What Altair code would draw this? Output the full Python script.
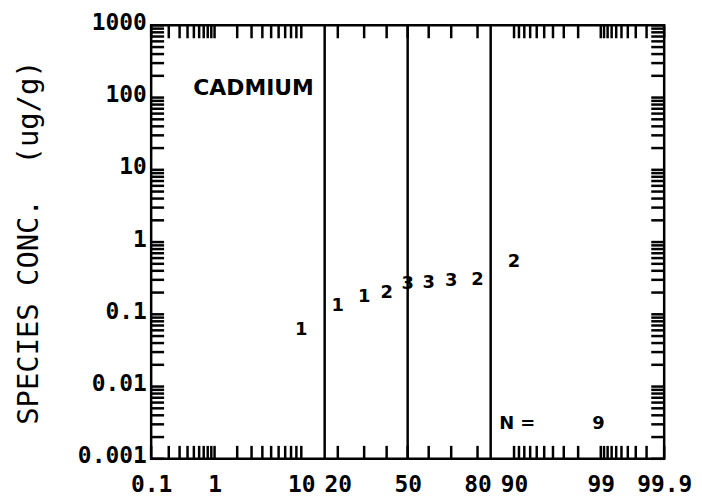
import altair as alt
import pandas as pd
from statistics import NormalDist

# ---------------- data ----------------
percentiles = [10, 20, 30, 40, 50, 60, 70, 80, 90]
concentrations = [0.060, 0.129, 0.171, 0.195, 0.259, 0.268, 0.285, 0.294, 0.521]
point_labels = ["1", "1", "1", "2", "3", "3", "3", "2", "2"]

x_tick_labels = [0.1, 1, 10, 20, 50, 80, 90, 99, 99.9]
y_tick_labels = [0.001, 0.01, 0.1, 1, 10, 100, 1000]
ref_sigmas = [-1, 0, 1]

minor_prob = ([0.1, 0.2, 0.3, 0.4, 0.5, 0.6, 0.7, 0.8, 0.9]
              + [1, 2, 3, 4, 5, 6, 7, 8, 9]
              + [10, 20, 30, 40, 50, 60, 70, 80, 90]
              + [91, 92, 93, 94, 95, 96, 97, 98, 99]
              + [99.1, 99.2, 99.3, 99.4, 99.5, 99.6, 99.7, 99.8, 99.9])
decades = [0.001, 0.01, 0.1, 1, 10, 100]
mantissas = [1, 2, 3, 4, 5, 6, 7, 8, 9]

# ---------------- derived tables ----------------
nd = NormalDist()


def pz(p):
    return nd.inv_cdf(p / 100.0)


W, H = 516, 436
TICK = 13
xdom = [pz(x_tick_labels[0]), pz(x_tick_labels[-1])]
xscale = alt.Scale(domain=xdom, nice=False, zero=False)
yscale = alt.Scale(type="log", domain=[y_tick_labels[0], y_tick_labels[-1]], nice=False)

pts = pd.DataFrame({
    "z": [pz(p) for p in percentiles],
    "conc": concentrations,
    "label": point_labels,
})
prob_ticks = pd.DataFrame({"z": [pz(p) for p in minor_prob]})
conc_ticks = pd.DataFrame({"conc": [d * m for d in decades for m in mantissas] + [1000]})
refs = pd.DataFrame({"z": ref_sigmas})

label_font = "DejaVu Sans Mono"

x_axis = alt.Axis(
    values=[pz(p) for p in x_tick_labels],
    labelExpr="round(cumulativeNormal(datum.value) * 1000) / 10 + ''",
    ticks=False, domain=False, grid=False, title=None,
    labelFont=label_font, labelFontSize=23, labelFontWeight="bold",
    labelColor="black", labelPadding=15, labelOverlap=False, labelFlush=False,
)
y_axis = alt.Axis(
    values=y_tick_labels, format="~g",
    ticks=False, domain=False, grid=False,
    labelFont=label_font, labelFontSize=23, labelFontWeight="bold",
    labelColor="black", labelPadding=5, labelOverlap=False, labelFlush=False,
    labelOffset=-3,
    title="SPECIES CONC.\u00a0\u00a0(ug/g)",
    titleFont=label_font, titleFontSize=29, titleFontWeight="normal",
    titleColor="black", titleX=-123, titleY=H / 2, titleAngle=270,
    titleAlign="center", titleBaseline="middle",
)

X = alt.X("z:Q", scale=xscale, axis=x_axis)
Y = alt.Y("conc:Q", scale=yscale, axis=y_axis)

points = alt.Chart(pts).mark_text(
    font="DejaVu Sans", fontWeight="bold", fontSize=18, color="black"
).encode(x=X, y=Y, text="label:N")

rule_style = dict(color="black", strokeWidth=2.5)

ref_lines = alt.Chart(refs).mark_rule(**rule_style).encode(x=X)

bottom_ticks = alt.Chart(prob_ticks).mark_rule(**rule_style).encode(
    x=X, y=alt.value(H), y2=alt.value(H - TICK))
top_ticks = alt.Chart(prob_ticks).mark_rule(**rule_style).encode(
    x=X, y=alt.value(0), y2=alt.value(TICK))
left_ticks = alt.Chart(conc_ticks).mark_rule(**rule_style).encode(
    y=Y, x=alt.value(0), x2=alt.value(TICK))
right_ticks = alt.Chart(conc_ticks).mark_rule(**rule_style).encode(
    y=Y, x=alt.value(W), x2=alt.value(W - TICK))

element = pd.DataFrame({"t": ["CADMIUM"]})
element_text = alt.Chart(element).mark_text(
    font="DejaVu Sans", fontWeight="bold", fontSize=22, color="black", align="center", baseline="middle"
).encode(x=alt.value(103), y=alt.value(63), text="t:N")

n_df = pd.DataFrame({"t": ["N ="], "n": [str(len(concentrations))]})
n_label = alt.Chart(n_df).mark_text(
    font="DejaVu Sans", fontWeight="bold", fontSize=18, color="black", align="left", baseline="middle"
).encode(x=alt.value(350), y=alt.value(401), text="t:N")
n_value = alt.Chart(n_df).mark_text(
    font="DejaVu Sans", fontWeight="bold", fontSize=18, color="black", align="center", baseline="middle"
).encode(x=alt.value(450), y=alt.value(401), text="n:N")

chart = alt.layer(
    points, ref_lines, bottom_ticks, top_ticks, left_ticks, right_ticks,
    element_text, n_label, n_value,
).properties(
    width=W, height=H,
    autosize=alt.AutoSizeParams(type="none"),
    padding={"left": 144, "top": 16, "right": 30, "bottom": 38},
    background="white",
).configure_view(stroke="black", strokeWidth=2.5)

chart.save("out.html", embed_options={"renderer": "svg", "actions": False})
